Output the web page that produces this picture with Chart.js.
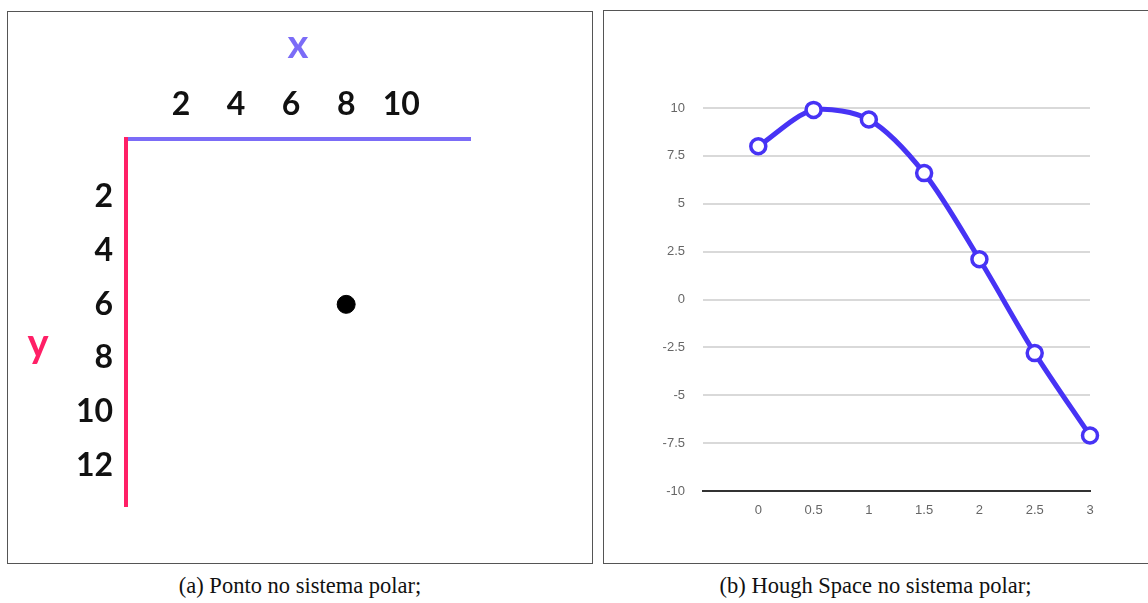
<!DOCTYPE html>
<html>
<head>
<meta charset="utf-8">
<script src="https://cdn.jsdelivr.net/npm/chart.js@4"></script>
<style>
  body { margin: 0; background: #fff; width: 1148px; height: 603px; overflow: hidden; position: relative; }
  .panel { position: absolute; border: 1px solid #555; background: #fff; }
  #boxA { left: 7px; top: 11px; width: 584px; height: 551px; }
  #boxB { left: 603px; top: 10px; width: 548px; height: 552px; }
  .caption { position: absolute; top: 573px; font-family: "Liberation Serif", "DejaVu Serif", serif; font-size: 22.5px; color: #111; text-align: center; }
  #capA { left: 7px; width: 586px; }
  #capB { left: 603px; width: 545px; }
</style>
</head>
<body>
<div class="panel" id="boxA"><canvas id="chartA" width="584" height="551"></canvas></div>
<div class="panel" id="boxB"><canvas id="chartB" width="545" height="552"></canvas></div>
<div class="caption" id="capA">(a) Ponto no sistema polar;</div>
<div class="caption" id="capB">(b) Hough Space no sistema polar;</div>

<script>
// (a) the point in image coordinates
const pointX = [8];
const pointY = [6];
const xTicksA = [2, 4, 6, 8, 10];
const yTicksA = [2, 4, 6, 8, 10, 12];

// (b) Hough space curve
const thetas = [0, 0.5, 1, 1.5, 2, 2.5, 3];
const rho = [8, 9.9, 9.4, 6.6, 2.1, -2.8, -7.1];
const xTicksB = [0, 0.5, 1, 1.5, 2, 2.5, 3];
const yTicksB = [-10, -7.5, -5, -2.5, 0, 2.5, 5, 7.5, 10];

const PURPLE = '#7b6cf7';
const PINK = '#ff1f66';

// axis names drawn upright, like the reference
const axisNames = {
  id: 'axisNames',
  afterDraw(chart) {
    const { ctx, chartArea } = chart;
    ctx.save();
    ctx.font = 'bold 40px Lato';
    ctx.textAlign = 'center';
    ctx.textBaseline = 'middle';
    ctx.fillStyle = PURPLE;
    ctx.fillText('x', (chartArea.left + chartArea.right) / 2, 33);
    ctx.fillStyle = PINK;
    ctx.fillText('y', 30, chart.scales.y.getPixelForValue(7.5) - 1);
    ctx.restore();
  }
};

new Chart(document.getElementById('chartA'), {
  type: 'scatter',
  data: {
    datasets: [{
      data: pointX.map((x, i) => ({ x: x, y: pointY[i] })),
      backgroundColor: '#000',
      borderColor: '#000',
      pointRadius: 9
    }]
  },
  options: {
    responsive: false,
    animation: false,
    layout: { padding: { left: 0, top: 0, right: 122, bottom: 57 } },
    plugins: { legend: { display: false }, tooltip: { enabled: false } },
    scales: {
      x: {
        type: 'linear',
        position: 'top',
        min: 0,
        max: 12.5,
        afterFit: s => { s.height = 127; },
        afterBuildTicks: s => { s.ticks = xTicksA.map(v => ({ value: v })); },
        grid: { display: false, drawTicks: false },
        border: { display: true, color: PURPLE, width: 4 },
        ticks: { color: '#111', padding: 15, maxRotation: 0, font: { family: 'Lato', size: 32, weight: 'bold' } }
      },
      y: {
        type: 'linear',
        reverse: true,
        min: -0.15,
        max: 13.5,
        afterFit: s => { s.width = 118; },
        afterBuildTicks: s => { s.ticks = yTicksA.map(v => ({ value: v })); },
        grid: { display: false, drawTicks: false },
        border: { display: true, color: PINK, width: 4 },
        ticks: { color: '#111', padding: 13, font: { family: 'Lato', size: 32, weight: 'bold' } }
      }
    }
  },
  plugins: [axisNames]
});

new Chart(document.getElementById('chartB'), {
  type: 'line',
  data: {
    datasets: [{
      data: thetas.map((t, i) => ({ x: t, y: rho[i] })),
      borderColor: '#4733f5',
      borderWidth: 5,
      tension: 0.3,
      pointRadius: 7.5,
      pointBorderWidth: 3.5,
      pointBackgroundColor: '#fff',
      pointBorderColor: '#4733f5',
      clip: false
    }]
  },
  options: {
    responsive: false,
    animation: false,
    layout: { padding: { left: 0, top: 97, right: 59, bottom: 0 } },
    plugins: { legend: { display: false }, tooltip: { enabled: false } },
    scales: {
      x: {
        type: 'linear',
        min: -0.5,
        max: 3,
        afterFit: s => { s.height = 72; },
        afterBuildTicks: s => { s.ticks = xTicksB.map(v => ({ value: v })); },
        grid: { display: false, drawTicks: false },
        border: { display: true, color: '#333', width: 2 },
        ticks: { color: '#666', padding: 12, maxRotation: 0, callback: v => String(v), font: { family: 'Liberation Sans', size: 13 } }
      },
      y: {
        type: 'linear',
        min: -10,
        max: 10,
        afterFit: s => { s.width = 99; },
        afterBuildTicks: s => { s.ticks = yTicksB.map(v => ({ value: v })); },
        grid: { color: '#d9d9d9', lineWidth: 2, drawTicks: false },
        border: { display: false },
        ticks: { color: '#666', padding: 18, callback: v => String(v), font: { family: 'Liberation Sans', size: 13 } }
      }
    }
  }
});
</script>
</body>
</html>
